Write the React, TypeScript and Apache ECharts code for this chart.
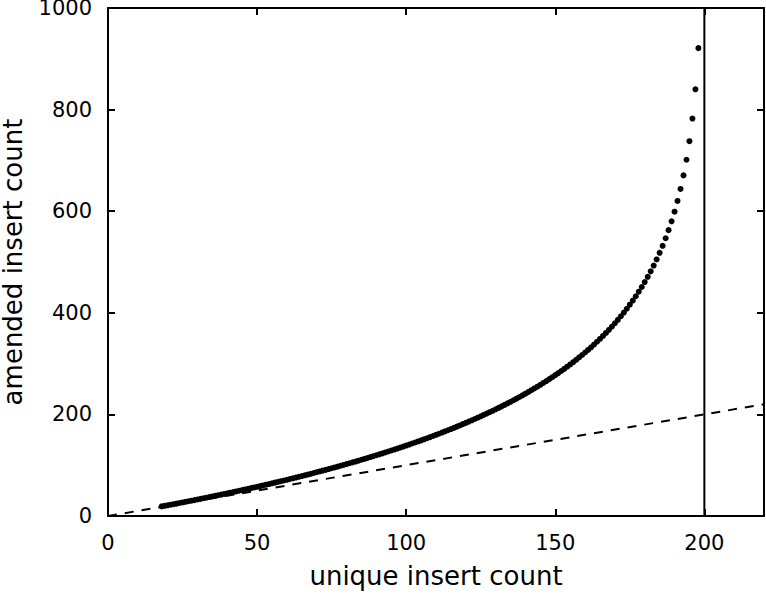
import React, { useEffect, useRef } from "react";
import * as echarts from "echarts";

// x tick labels / y tick labels
const X_TICKS = [0, 50, 100, 150, 200];
const Y_TICKS = [0, 200, 400, 600, 800, 1000];

// unique insert count starts at 18 and increases by one per point
const UNIQUE_START = 18;
// amended insert count for each unique insert count
const AMENDED = [
  18.9, 20.0, 21.1, 22.2, 23.3, 24.4, 25.6, 26.7, 27.9, 29.0,
  30.2, 31.3, 32.5, 33.7, 34.9, 36.1, 37.3, 38.5, 39.7, 40.9,
  42.1, 43.4, 44.6, 45.9, 47.1, 48.4, 49.7, 51.0, 52.3, 53.6,
  54.9, 56.2, 57.5, 58.9, 60.2, 61.6, 62.9, 64.3, 65.7, 67.1,
  68.5, 69.9, 71.3, 72.8, 74.2, 75.7, 77.1, 78.6, 80.1, 81.6,
  83.1, 84.6, 86.2, 87.7, 89.3, 90.8, 92.4, 94.0, 95.6, 97.2,
  98.9, 100.5, 102.2, 103.8, 105.5, 107.2, 108.9, 110.7, 112.4, 114.2,
  116.0, 117.8, 119.6, 121.4, 123.2, 125.1, 127.0, 128.9, 130.8, 132.7,
  134.7, 136.6, 138.6, 140.6, 142.7, 144.7, 146.8, 148.9, 151.0, 153.1,
  155.3, 157.5, 159.7, 161.9, 164.2, 166.5, 168.8, 171.1, 173.5, 175.9,
  178.3, 180.8, 183.3, 185.8, 188.3, 190.9, 193.5, 196.2, 198.9, 201.6,
  204.3, 207.1, 210.0, 212.8, 215.8, 218.7, 221.7, 224.8, 227.9, 231.0,
  234.2, 237.5, 240.8, 244.2, 247.6, 251.1, 254.6, 258.2, 261.9, 265.6,
  269.4, 273.3, 277.3, 281.3, 285.4, 289.6, 293.9, 298.3, 302.8, 307.4,
  312.1, 316.9, 321.9, 326.9, 332.1, 337.5, 343.0, 348.6, 354.4, 360.4,
  366.5, 372.9, 379.4, 386.2, 393.2, 400.5, 408.0, 415.9, 424.1, 432.6,
  441.5, 450.8, 460.5, 470.8, 481.6, 493.0, 505.1, 518.1, 531.9, 546.7,
  562.7, 580.1, 599.1, 620.2, 643.8, 670.5, 701.3, 737.8, 782.4, 839.9,
  921.0,
];

// reference line y = x (dashed) and vertical limit line
const DIAGONAL = [
  [0, 0],
  [220, 220],
];
const LIMIT = [
  [200, 0],
  [200, 1000],
];

const X_MIN = 0;
const X_MAX = 220;
const Y_MIN = 0;
const Y_MAX = 1000;

const FONT = "DejaVu Sans";

export default function App() {
  const ref = useRef<HTMLDivElement>(null);

  useEffect(() => {
    if (!ref.current) return;
    const chart = echarts.init(ref.current, null, { renderer: "svg" });

    const points = AMENDED.map((v, i) => [UNIQUE_START + i, v]);
    const axisLine = { show: true, onZero: false, lineStyle: { color: "#000", width: 2 } };
    const axisTick = { show: true, inside: true, length: 7, lineStyle: { color: "#000", width: 2 } };

    chart.setOption({
      animation: false,
      backgroundColor: "#fff",
      grid: {
        left: 108,
        right: 2,
        top: 8,
        bottom: 79,
        containLabel: false,
        outerBoundsMode: "none",
      },
      xAxis: [
        {
          type: "value",
          min: X_MIN,
          max: X_MAX,
          interval: 50,
          position: "bottom",
          axisLine,
          axisTick,
          splitLine: { show: false },
          axisLabel: {
            show: true,
            color: "#000",
            fontFamily: FONT,
            fontSize: 21,
            margin: 16,
            showMaxLabel: false,
            formatter: (v: number) => (X_TICKS.includes(v) ? String(v) : ""),
          },
          name: "unique insert count",
          nameLocation: "middle",
          nameGap: 47,
          nameTextStyle: { color: "#000", fontFamily: FONT, fontSize: 26 },
        },
        {
          type: "value",
          min: X_MIN,
          max: X_MAX,
          interval: 50,
          position: "top",
          axisLine,
          axisTick,
          splitLine: { show: false },
          axisLabel: { show: false },
        },
      ],
      yAxis: [
        {
          type: "value",
          min: Y_MIN,
          max: Y_MAX,
          interval: 200,
          position: "left",
          axisLine,
          axisTick,
          splitLine: { show: false },
          axisLabel: {
            show: true,
            color: "#000",
            fontFamily: FONT,
            fontSize: 21,
            lineHeight: 14,
            margin: 16,
            formatter: (v: number) => (Y_TICKS.includes(v) ? String(v) : ""),
          },
          name: "amended insert count",
          nameLocation: "middle",
          nameGap: 83,
          nameRotate: 90,
          nameTextStyle: { color: "#000", fontFamily: FONT, fontSize: 26, lineHeight: 24 },
        },
        {
          type: "value",
          min: Y_MIN,
          max: Y_MAX,
          interval: 200,
          position: "right",
          axisLine,
          axisTick,
          splitLine: { show: false },
          axisLabel: { show: false },
        },
      ],
      series: [
        {
          type: "line",
          data: DIAGONAL,
          showSymbol: false,
          symbol: "none",
          lineStyle: { color: "#000", width: 2, type: [9, 8] },
          silent: true,
          z: 2,
        },
        {
          type: "line",
          data: LIMIT,
          showSymbol: false,
          symbol: "none",
          lineStyle: { color: "#000", width: 2 },
          silent: true,
          z: 2,
        },
        {
          type: "scatter",
          data: points,
          symbol: "circle",
          symbolSize: 6,
          itemStyle: { color: "#000", opacity: 1 },
          z: 3,
        },
      ],
    });

    return () => chart.dispose();
  }, []);

  return (
    <div
      ref={ref}
      style={{ position: "fixed", left: 0, top: 0, width: 766, height: 595 }}
    />
  );
}
